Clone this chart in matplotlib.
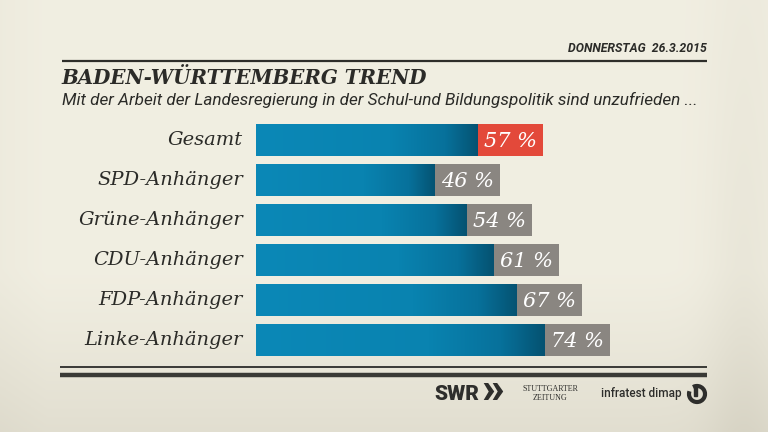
import numpy as np
import matplotlib
matplotlib.use("Agg")
import matplotlib.pyplot as plt
from matplotlib.colors import LinearSegmentedColormap
from matplotlib.patches import Arc, Rectangle

# chart data
categories = ["Gesamt", "SPD-Anhänger", "Grüne-Anhänger", "CDU-Anhänger", "FDP-Anhänger", "Linke-Anhänger"]
values = [57, 46, 54, 61, 67, 74]
highlight = [True, False, False, False, False, False]

title = "BADEN-WÜRTTEMBERG TREND"
subtitle = "Mit der Arbeit der Landesregierung in der Schul-und Bildungspolitik sind unzufrieden ..."
date_text = "DONNERSTAG  26.3.2015"

W, H = 768, 432
fig = plt.figure(figsize=(7.68, 4.32), dpi=100)

# background with soft vignette
bg = fig.add_axes([0, 0, 1, 1])
bg.set_xlim(0, W)
bg.set_ylim(H, 0)
bg.axis("off")
xx, yy = np.meshgrid(np.linspace(0, 1, 400), np.linspace(0, 1, 225))
light = np.array([0.945, 0.935, 0.885])
dark = np.array([0.835, 0.820, 0.760])
t = 0.55 * np.clip((yy - 0.62) / 0.38, 0, 1) ** 1.2
t += 0.35 * np.exp(-((xx - 0.97) / 0.05) ** 2) * (0.4 + 0.6 * yy)
t += 0.12 * np.clip((0.06 - xx) / 0.06, 0, 1)
t = np.clip(t, 0, 1)
img = light[None, None, :] * (1 - t[..., None]) + dark[None, None, :] * t[..., None]
bg.imshow(img, extent=[0, W, H, 0], aspect="auto", zorder=0)

# header and footer rules
bg.plot([62, 707], [61, 61], color="#2e2e2a", lw=1.6, solid_capstyle="butt")
bg.plot([60, 707], [367, 367], color="#3a3a36", lw=1.4, solid_capstyle="butt")
bg.plot([60, 707], [374.5, 374.5], color="#3a3a36", lw=3.2, solid_capstyle="butt")

bg.text(707, 49, date_text, ha="right", va="center", fontsize=8.8, fontstyle="italic",
        fontweight="bold", family="Roboto", color="#2b2b28")
bg.text(61, 78, title, ha="left", va="center", fontsize=14.3, fontstyle="italic",
        fontweight="bold", family="DejaVu Serif", color="#2b2b28")
bg.text(62, 100, subtitle, ha="left", va="center", fontsize=12.3, fontstyle="italic",
        family="Roboto", color="#2b2b28")

# footer logos as text
bg.text(434, 394, "SWR", ha="left", va="center", fontsize=15, fontweight="black",
        family="Roboto", color="#2e2e2c")
bg.text(481, 391, "»", ha="left", va="center", fontsize=32, fontweight="black",
        family="Roboto", color="#2e2e2c")
bg.text(550, 389, "STUTTGARTER", ha="center", va="center", fontsize=5.8,
        family="Liberation Serif", color="#2e2e2c")
bg.text(550, 398.5, "ZEITUNG", ha="center", va="center", fontsize=5.8,
        family="Liberation Serif", color="#2e2e2c")
bg.text(601, 393, "infratest dimap", ha="left", va="center", fontsize=8.5,
        family="Roboto", fontweight="medium", color="#2e2e2c")
bg.add_patch(Arc((697, 394), 16, 16, theta1=-120, theta2=200, lw=3.0, color="#2e2e2c"))
bg.add_patch(Rectangle((693.5, 385), 3.2, 11, color="#2e2e2c"))

# bar area: 3.9 px per percent, rows 40 px apart
px_per_unit = 3.9
ax = fig.add_axes([256 / W, 1 - 360 / H, 100 * px_per_unit / W, 240 / H])
ax.set_xlim(0, 100)
ax.set_ylim(len(categories) - 0.5, -0.5)
ax.axis("off")
ax.patch.set_alpha(0)

box_w = 65 / px_per_unit
ypos = np.arange(len(categories))
bars = ax.barh(ypos, values, height=0.8, color="#0a84b2", zorder=2)

blue_cmap = LinearSegmentedColormap.from_list(
    "bluefade", [(0, "#0b88b7"), (0.6, "#0983b0"), (0.85, "#07719b"), (1.0, "#055271")])
grad = np.linspace(0, 1, 256)[None, :]
for b in bars:
    x0, y0, w, h = b.get_x(), b.get_y(), b.get_width(), b.get_height()
    im = ax.imshow(grad, cmap=blue_cmap, extent=[x0, x0 + w, y0 + h, y0],
                   aspect="auto", zorder=3)
    im.set_clip_path(b)

box_colors = ["#e3493a" if hl else "#8a8681" for hl in highlight]
ax.barh(ypos, [box_w] * len(values), left=values, height=0.8, color=box_colors, zorder=4)

for i, (cat, v) in enumerate(zip(categories, values)):
    ax.text(-13 / px_per_unit, i, cat, ha="right", va="center", fontsize=14,
            fontstyle="italic", family="DejaVu Serif", color="#2b2b28")
    ax.text(v + box_w / 2, i + 0.03, f"{v} %", ha="center", va="center", fontsize=15,
            fontstyle="italic", family="DejaVu Serif", color="white", zorder=5)

ax.set_xlim(0, 100)
ax.set_ylim(len(categories) - 0.5, -0.5)

fig.savefig("out.png", dpi=100)
